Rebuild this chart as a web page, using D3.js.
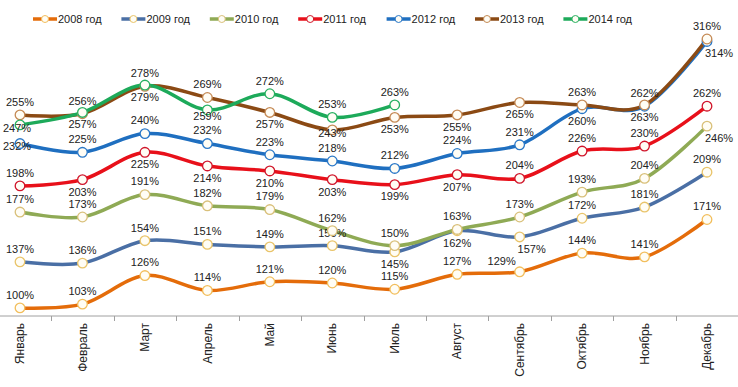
<!DOCTYPE html>
<html>
<head>
<meta charset="utf-8">
<script src="https://cdn.jsdelivr.net/npm/d3@7"></script>
<style>
  body { margin: 0; background: #fff; }
  svg { display: block; font-family: "Liberation Sans", Arial, sans-serif; }
</style>
</head>
<body>
<svg id="chart" width="738" height="387"></svg>
<script>
// months on the x axis
var months = ["Январь", "Февраль", "Март", "Апрель", "Май", "Июнь", "Июль",
  "Август", "Сентябрь", "Октябрь", "Ноябрь", "Декабрь"];

// values in % per year
var y2008 = [100, 103, 126, 114, 121, 120, 115, 127, 129, 144, 141, 171];
var y2009 = [137, 136, 154, 151, 149, 150, 145, 162, 157, 172, 181, 209];
var y2010 = [177, 173, 191, 182, 179, 162, 150, 163, 173, 193, 204, 246];
var y2011 = [198, 203, 225, 214, 210, 203, 199, 207, 204, 226, 230, 262];
var y2012 = [232, 225, 240, 232, 223, 218, 212, 224, 231, 260, 262, 314];
var y2013 = [255, 256, 278, 269, 257, 243, 253, 255, 265, 263, 263, 316];
var y2014 = [247, 257, 279, 259, 272, 253, 263];

var seriesNames = ["2008 год", "2009 год", "2010 год", "2011 год", "2012 год", "2013 год", "2014 год"];

// where each value label sits: t = above, b = below, c = on the point,
// r = below right, l = above left, s = just under the point
var labelSide = {
  "2008 год": "ttttttttlttt",
  "2009 год": "ttttttbbrttt",
  "2010 год": "tttttttttttr",
  "2011 год": "tbbbbbbbtttt",
  "2012 год": "cttttttttbtr",
  "2013 год": "ttttbcbbbtbt",
  "2014 год": "cbbsttt"
};

var lineColors = ["#E46C0A", "#4A6FA5", "#8FAA55", "#E8101A", "#1F6FC0", "#8B4A14", "#1DAA5A"];
var markColors = ["#F2BE5C", "#E9C46A", "#D9C07A", "#D0142A", "#2A78C8", "#C58A55", "#28B060"];

var all = [y2008, y2009, y2010, y2011, y2012, y2013, y2014];

var svg = d3.select("#chart");

var x = d3.scalePoint().domain(months).range([20, 707]);
var y = d3.scaleLinear().domain([93.5, 320]).range([316, 34]);
var step = x.step();

// x axis
var axisG = svg.append("g").attr("transform", "translate(0,316)");
axisG.append("line")
  .attr("x1", 0).attr("x2", 738)
  .attr("stroke", "#a0a0a0").attr("stroke-width", 1);
axisG.selectAll("line.tick")
  .data(months.slice(0, -1))
  .enter()
  .append("line")
    .attr("class", "tick")
    .attr("x1", d => Math.round(x(d) + step / 2) + 0.5)
    .attr("x2", d => Math.round(x(d) + step / 2) + 0.5)
    .attr("y1", 0).attr("y2", 5)
    .attr("stroke", "#a0a0a0");

axisG.selectAll("text.month")
  .data(months)
  .enter()
  .append("text")
    .attr("class", "month")
    .attr("transform", d => "translate(" + x(d) + ",7) rotate(-90)")
    .attr("text-anchor", "end")
    .attr("dy", "0.35em")
    .attr("font-size", "12px")
    .attr("fill", "#222")
    .text(d => d);

var line = d3.line()
  .x((d, i) => x(months[i]))
  .y(d => y(d))
  .curve(d3.curveCatmullRom.alpha(0));

// lines
all.forEach(function(vals, k) {
  svg.append("path")
    .datum(vals)
    .attr("fill", "none")
    .attr("stroke", lineColors[k])
    .attr("stroke-width", 3.5)
    .attr("stroke-linejoin", "round")
    .attr("d", line);
});

// markers and labels
all.forEach(function(vals, k) {
  var g = svg.append("g");
  g.selectAll("circle")
    .data(vals)
    .enter()
    .append("circle")
      .attr("cx", (d, i) => x(months[i]))
      .attr("cy", d => y(d))
      .attr("r", 4.8)
      .attr("fill", "#fffdf5")
      .attr("stroke", markColors[k])
      .attr("stroke-width", 1.3);

  var sides = labelSide[seriesNames[k]];
  g.selectAll("text")
    .data(vals)
    .enter()
    .append("text")
      .attr("x", function(d, i) {
        var s = sides[i];
        var px = x(months[i]);
        if (s == "r") return px + 12;
        if (s == "l") return px - 18;
        if (s == "c" && i == 0) return px - 3;
        return px;
      })
      .attr("y", function(d, i) {
        var s = sides[i];
        var py = y(d);
        if (s == "t") return py - 13;
        if (s == "l") return py - 11;
        if (s == "b") return py + 12;
        if (s == "r") return py + 12;
        if (s == "s") return py + 6;
        return py + 3;
      })
      .attr("dy", "0.35em")
      .attr("text-anchor", "middle")
      .attr("font-size", "11px")
      .attr("fill", "#222")
      .text(d => d + "%");
});

// legend
var legend = svg.selectAll("g.legend")
  .data(seriesNames)
  .enter()
  .append("g")
    .attr("class", "legend")
    .attr("transform", (d, i) => "translate(" + (33 + i * 88.4) + ",19)");
legend.append("line")
  .attr("x1", 0).attr("x2", 24)
  .attr("stroke", (d, i) => lineColors[i])
  .attr("stroke-width", 3.5);
legend.append("circle")
  .attr("cx", 12).attr("r", 3.5)
  .attr("fill", "#fffdf5")
  .attr("stroke", (d, i) => markColors[i])
  .attr("stroke-width", 1);
legend.append("text")
  .attr("x", 25)
  .attr("dy", "0.35em")
  .attr("font-size", "11px")
  .attr("fill", "#222")
  .text(d => d);
</script>
</body>
</html>
